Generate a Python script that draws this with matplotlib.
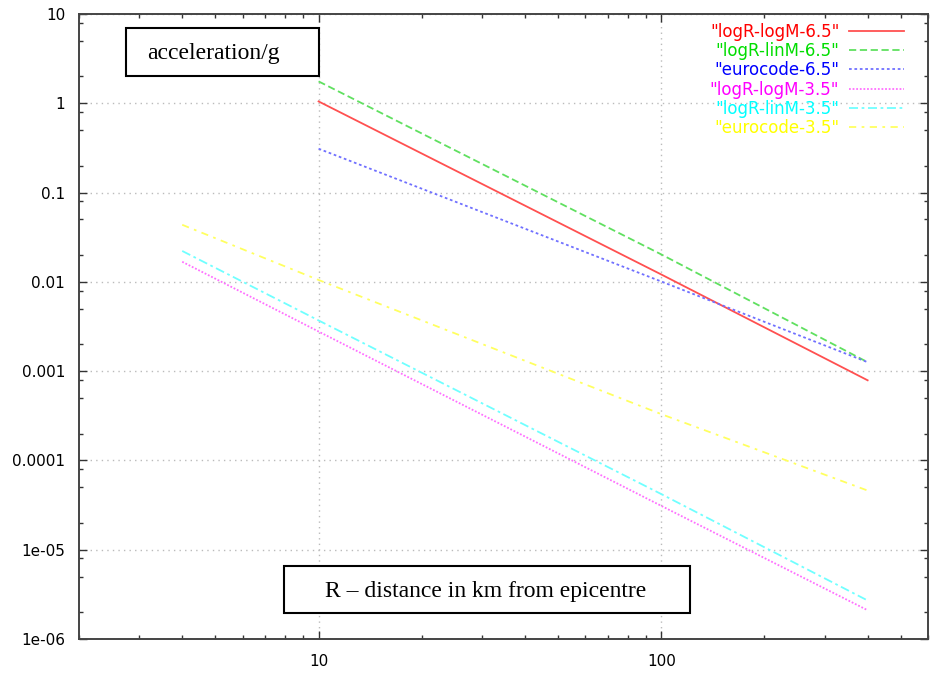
import matplotlib
matplotlib.use("Agg")
import matplotlib.pyplot as plt
from matplotlib.patches import Rectangle
from matplotlib.ticker import LogLocator, NullFormatter, FixedLocator

r_big = [10, 100, 400]
r_small = [4, 10, 100, 400]

# magnitude 6.5
logr_logm_65 = [1.05, 0.0121, 0.00079]
logr_linm_65 = [1.76, 0.0203, 0.00126]
euro_65 = [0.31, 0.0101, 0.00126]

# magnitude 3.5
logr_logm_35 = [0.0168, 0.00278, 3.1e-5, 2.1e-6]
logr_linm_35 = [0.0222, 0.0037, 4.2e-5, 2.7e-6]
euro_35 = [0.0436, 0.0105, 3.3e-4, 4.6e-5]

labels = ['"logR-logM-6.5"', '"logR-linM-6.5"', '"eurocode-6.5"',
          '"logR-logM-3.5"', '"logR-linM-3.5"', '"eurocode-3.5"']
text_colors = ["#ff0000", "#00dd00", "#0000ff", "#ff00ff", "#00ffff", "#ffff00"]
line_colors = ["#ff5050", "#60e060", "#7070ff", "#ff70ff", "#70ffff", "#ffff60"]

fig = plt.figure(figsize=(9.32, 6.74), dpi=100)
ax = fig.add_axes([0.0848, 0.0519, 0.9109, 0.9273])

series = [(r_big, logr_logm_65, "-"),
          (r_big, logr_linm_65, (0, (4, 2))),
          (r_big, euro_65, (0, (1.5, 1.5))),
          (r_small, logr_logm_35, (0, (1, 1))),
          (r_small, logr_linm_35, (0, (5, 2, 1.5, 2))),
          (r_small, euro_35, (0, (4, 3, 1.5, 3)))]
for (x, y, ls), lab, c in zip(series, labels, line_colors):
    ax.plot(x, y, linestyle=ls, color=c, lw=1.3, label=lab)

ax.set_xscale("log")
ax.set_yscale("log")
ax.set_xlim(2, 600)
ax.set_ylim(1e-6, 10)

ax.xaxis.set_major_locator(FixedLocator([10, 100]))
ax.set_xticklabels(["10", "100"])
ax.xaxis.set_minor_locator(LogLocator(base=10, subs=range(2, 10)))
ax.xaxis.set_minor_formatter(NullFormatter())

yt = [1e-6, 1e-5, 1e-4, 1e-3, 1e-2, 0.1, 1, 10]
ax.yaxis.set_major_locator(FixedLocator(yt))
ax.set_yticklabels(["1e-06", "1e-05", "0.0001", "0.001", "0.01", "0.1", "1", "10"])
ax.yaxis.set_minor_locator(LogLocator(base=10, subs=[2, 5, 8]))
ax.yaxis.set_minor_formatter(NullFormatter())

ax.tick_params(which="both", direction="in", top=True, right=True, colors="#333333",
               labelcolor="black", labelsize=11)
ax.tick_params(which="major", length=6, width=1)
ax.tick_params(which="minor", length=3, width=1)
ax.tick_params(axis="y", pad=10)
ax.tick_params(axis="x", pad=11)
for s in ax.spines.values():
    s.set_color("#444444")
    s.set_linewidth(1.4)

ax.grid(True, which="major", color="#bbbbbb", linestyle=(0, (1, 3)), lw=1)

leg = ax.legend(loc="upper right", bbox_to_anchor=(0.980, 0.997), markerfirst=False,
                frameon=False, fontsize=12, labelcolor=text_colors, handlelength=3.3,
                labelspacing=0.08, borderaxespad=0, handletextpad=0.6)

# annotation boxes
serif = ["Liberation Serif", "DejaVu Serif"]
fig.add_artist(Rectangle((126 / 932, 1 - 76 / 674), 193 / 932, 48 / 674,
                         transform=fig.transFigure, fill=True, facecolor="white",
                         edgecolor="black", lw=1.5))
fig.text(147 / 932, 1 - 53 / 674, "acceleration/g", family=serif, fontsize=17,
         va="center", ha="left")
fig.add_artist(Rectangle((284 / 932, 1 - 613 / 674), 406 / 932, 47 / 674,
                         transform=fig.transFigure, fill=True, facecolor="white",
                         edgecolor="black", lw=1.5))
fig.text(486 / 932, 1 - 592 / 674, "R \u2013 distance in km from epicentre",
         family=serif, fontsize=17, va="center", ha="center")

fig.savefig("out.png", dpi=100)
